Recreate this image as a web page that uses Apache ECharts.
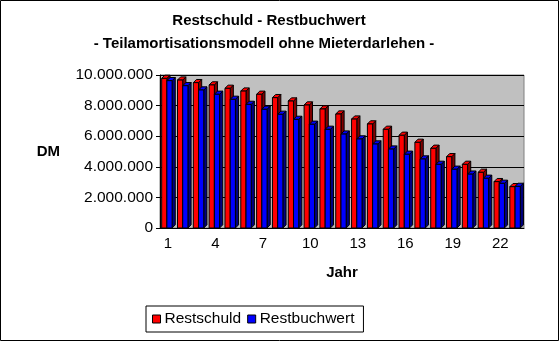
<!DOCTYPE html>
<html>
<head>
<meta charset="utf-8">
<script src="https://cdn.jsdelivr.net/npm/echarts@6/dist/echarts.min.js"></script>
<style>html,body{margin:0;padding:0;background:#fff}#c{width:560px;height:341px}</style>
</head>
<body>
<div id="c"></div>
<script>
const years = ['1','2','3','4','5','6','7','8','9','10','11','12','13','14','15','16','17','18','19','20','21','22','23'];
const restschuld = [9780000,9670000,9500000,9350000,9130000,8950000,8740000,8520000,8300000,8040000,7780000,7450000,7120000,6800000,6450000,6060000,5600000,5210000,4660000,4160000,3640000,3030000,2700000];
const restbuchwert = [9630000,9300000,9020000,8740000,8410000,8080000,7760000,7430000,7100000,6780000,6450000,6140000,5820000,5490000,5160000,4820000,4510000,4160000,3840000,3520000,3250000,2920000,2720000];
const yTicks = [0,2000000,4000000,6000000,8000000,10000000];

const FONT = '"Liberation Sans", Arial, sans-serif';
const chart = echarts.init(document.getElementById('c'), null, {renderer:'canvas'});

function fmt(v){ return String(v).replace(/\B(?=(\d{3})+(?!\d))/g,'.'); }

function makeRender(s, front, side){
  return function(params, api){
    const x = api.value(0), v = api.value(1);
    const top = api.coord([x, v]);
    const base = api.coord([x, 0]);
    const bw = api.size([1,0])[0];
    const fw = bw*0.33, d = bw*0.2;
    const left = top[0] - bw*0.395 + s*fw;
    const ty = top[1], by = base[1];
    const st = {stroke:'#000', lineWidth:1};
    return {type:'group', children:[
      {type:'polygon', shape:{points:[[left+fw,ty],[left+fw+d,ty-d],[left+fw+d,by-d],[left+fw,by]]}, style:Object.assign({fill:side},st)},
      {type:'polygon', shape:{points:[[left,ty],[left+d,ty-d],[left+fw+d,ty-d],[left+fw,ty]]}, style:Object.assign({fill:front},st)},
      {type:'rect', shape:{x:left,y:ty,width:fw,height:by-ty}, style:Object.assign({fill:front},st)}
    ]};
  };
}

chart.setOption({
  animation:false,
  backgroundColor:'#fff',
  textStyle:{fontFamily:FONT},
  title:[
    {text:'Restschuld - Restbuchwert', left:264, top:8, textAlign:'center',
     textStyle:{fontFamily:FONT,fontSize:15,fontWeight:'bold',color:'#000'}},
    {text:'- Teilamortisationsmodell ohne Mieterdarlehen -', left:259, top:31, textAlign:'center',
     textStyle:{fontFamily:FONT,fontSize:15,fontWeight:'bold',color:'#000'}}
  ],
  grid:{left:160, right:36, top:75, bottom:113, show:true, backgroundColor:'#C0C0C0', borderColor:'#808080', borderWidth:1},
  legend:{
    left:146, top:306, padding:[5,9,5,6], itemGap:6, itemWidth:8, itemHeight:8, icon:'rect',
    borderColor:'#000', borderWidth:1, backgroundColor:'#fff',
    itemStyle:{borderColor:'#000', borderWidth:1},
    textStyle:{fontFamily:FONT, fontSize:15.5, color:'#000', lineHeight:16, padding:[0,0,0,-1]},
    data:['Restschuld','Restbuchwert']
  },
  xAxis:{
    type:'category', data:years, boundaryGap:true,
    name:'Jahr', nameLocation:'middle', nameGap:37,
    nameTextStyle:{fontFamily:FONT,fontSize:15,fontWeight:'bold',color:'#000'},
    axisLine:{lineStyle:{color:'#000',width:1}},
    axisTick:{interval:0, length:4, lineStyle:{color:'#000'}},
    axisLabel:{interval:2, fontFamily:FONT, fontSize:15, color:'#000', margin:8},
    splitLine:{show:false}
  },
  yAxis:{
    type:'value', min:0, max:10000000, interval:2000000,
    name:'DM', nameLocation:'middle', nameRotate:0, nameGap:100,
    nameTextStyle:{fontFamily:FONT,fontSize:15,fontWeight:'bold',color:'#000'},
    axisLine:{show:true, lineStyle:{color:'#000',width:1}},
    axisTick:{show:true, length:4, lineStyle:{color:'#000'}},
    axisLabel:{fontFamily:FONT, fontSize:15.5, color:'#000', margin:7,
      formatter:function(v){ return yTicks.indexOf(v)>=0 ? fmt(v) : ''; }},
    splitLine:{show:true, lineStyle:{color:'#000',width:1}}
  },
  graphic:[
    {type:'rect', shape:{x:0.5,y:0.5,width:558,height:340}, style:{fill:null, stroke:'#000', lineWidth:1}, silent:true, z:100}
  ],
  series:[
    {name:'Restschuld', type:'custom', itemStyle:{color:'#FF0000'},
     renderItem:makeRender(0,'#FF0000','#800000'),
     encode:{x:0,y:1}, data:restschuld.map((v,i)=>[i,v])},
    {name:'Restbuchwert', type:'custom', itemStyle:{color:'#0000FF'},
     renderItem:makeRender(1,'#0000FF','#000080'),
     encode:{x:0,y:1}, data:restbuchwert.map((v,i)=>[i,v])}
  ]
});
</script>
</body>
</html>
